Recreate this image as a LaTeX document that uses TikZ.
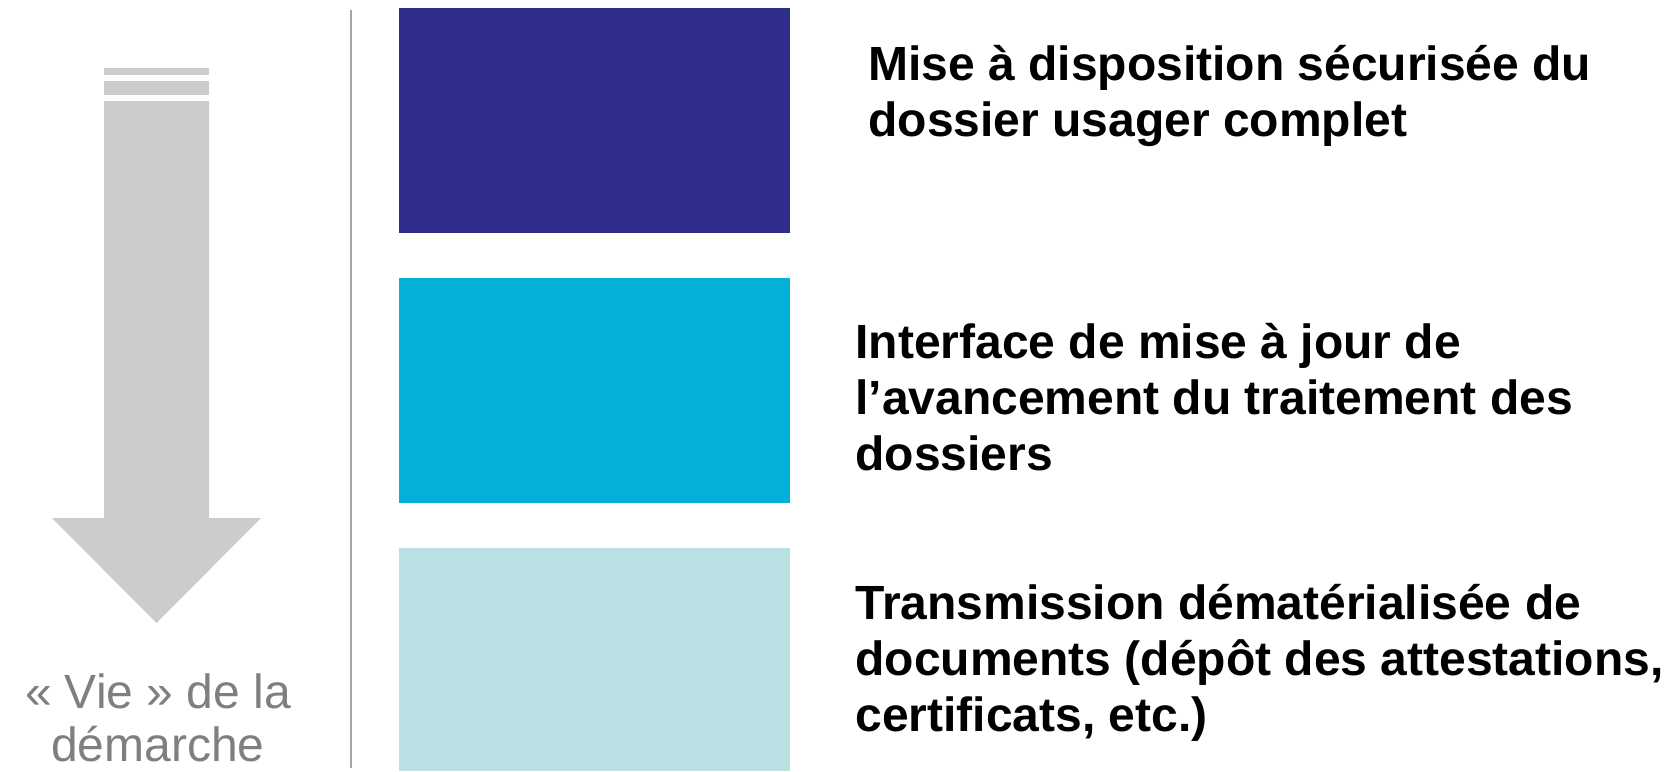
\documentclass[tikz,border=0pt]{standalone}
\usepackage{fontspec}
\setmainfont{Liberation Sans}
\definecolor{cnavy}{HTML}{2E2D89}
\definecolor{ccyan}{HTML}{03B0D8}
\definecolor{cpale}{HTML}{BAE0E3}
\definecolor{carrow}{HTML}{CCCCCC}
\definecolor{cgreytext}{HTML}{7F7F7F}
\definecolor{cline}{HTML}{A6A6A6}
\begin{document}
\begin{tikzpicture}[x=0.5pt,y=-0.5pt,
  lbl/.style={anchor=base west, inner sep=0pt, align=left,
    font=\bfseries\fontsize{24}{28}\selectfont},
  side/.style={anchor=base, inner sep=0pt, align=center, text=cgreytext,
    font=\fontsize{24}{26.5}\selectfont}]
\useasboundingbox (0,0) rectangle (1670,771);
% arrow
\fill[carrow] (104,68) rectangle (209,75);
\fill[carrow] (104,81) rectangle (209,95);
\fill[carrow] (104,101) -- (209,101) -- (209,518) -- (261,518) -- (156.5,623)
  -- (52,518) -- (104,518) -- cycle;
% separator
\coordinate (lt) at (351,10);
\coordinate (lb) at (351,768);
\draw[cline, line width=1.2pt] (lt) -- (lb);
% blocks
\fill[cnavy] (399,8) rectangle (790,233);
\fill[ccyan] (399,278) rectangle (790,503);
\fill[cpale] (399,548) rectangle (790,771);
% texts (anchor = baseline of last line)
\node[lbl] (t1) at (868,136) {Mise à disposition sécurisée du\\dossier usager complet};
\node[lbl] (t2) at (855,470) {Interface de mise à jour de\\l’avancement du traitement des\\dossiers};
\node[lbl] (t3) at (855,731) {Transmission dématérialisée de\\documents (dépôt des attestations,\\certificats, etc.)};
\node[side] (vie) at (158,761) {« Vie » de la\\démarche};
\end{tikzpicture}
\end{document}
